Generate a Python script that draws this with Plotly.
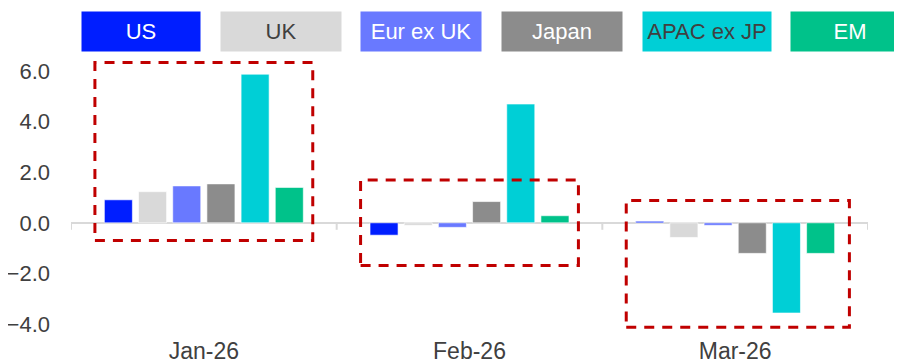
import plotly.graph_objects as go

categories = ["Jan-26", "Feb-26", "Mar-26"]
series_names = ["US", "UK", "Eur ex UK", "Japan", "APAC ex JP", "EM"]
us = [0.91, -0.49, 0.06]
uk = [1.23, -0.10, -0.58]
eur_ex_uk = [1.46, -0.18, -0.10]
japan = [1.54, 0.84, -1.21]
apac_ex_jp = [5.88, 4.70, -3.57]
em = [1.40, 0.28, -1.21]
y_tick_values = [-4.0, -2.0, 0.0, 2.0, 4.0, 6.0]

# highlight boxes around each month (value extents)
box_top = [6.34, 1.69, 0.88]
box_bottom = [-0.70, -1.69, -4.13]

series_values = [us, uk, eur_ex_uk, japan, apac_ex_jp, em]
colors = ["#001EFF", "#D9D9D9", "#6979FF", "#8C8C8C", "#00CFD6", "#00C28A"]
legend_text_colors = ["#FFFFFF", "#404040", "#FFFFFF", "#FFFFFF", "#404040", "#FFFFFF"]

fig = go.Figure()
for name, vals, col in zip(series_names, series_values, colors):
    fig.add_trace(go.Bar(
        x=categories, y=vals, name=name,
        marker=dict(color=col, line=dict(color="rgba(255,255,255,0.6)", width=1)),
        showlegend=False,
    ))

# page body has an 8px margin, so the figure is sized to fit the window
PAGE_OFF = 8
W, H = 902 - PAGE_OFF, 364 - PAGE_OFF
L, R, T, B = 71 - PAGE_OFF, 34, 56 - PAGE_OFF, 30
plot_w = W - L - R
plot_h = H - T - B

fig.update_layout(
    width=W, height=H,
    margin=dict(l=L, r=R, t=T, b=B, autoexpand=False),
    barmode="group", bargap=0.228, bargroupgap=0.18,
    plot_bgcolor="white", paper_bgcolor="white",
    font=dict(family="Liberation Sans, Arial, sans-serif", color="#404040"),
)
fig.update_xaxes(
    type="category", showline=False, showgrid=False, ticks="",
    tickfont=dict(size=23, color="#404040"), ticklabelstandoff=1,
    range=[-0.5, len(categories) - 0.5], automargin=False,
)
fig.update_yaxes(
    range=[-4.4, 6.6], tickvals=y_tick_values, tickformat=".1f",
    showgrid=False, showline=False, ticks="",
    zeroline=True, zerolinecolor="#D9D9D9", zerolinewidth=2,
    tickfont=dict(size=22, color="#404040"), ticklabelstandoff=20,
    automargin=False,
)

# small tick marks under the zero line at category boundaries
for i in range(len(categories) + 1):
    fig.add_shape(type="line", xref="x", yref="y", x0=i - 0.5, x1=i - 0.5,
                  ysizemode="pixel", yanchor=0, y0=0, y1=-7,
                  line=dict(color="#D9D9D9", width=2))

# dashed highlight boxes
x_left = [-0.41, -0.41, -0.41]
x_right = [0.41, 0.41, 0.43]
for i in range(len(categories)):
    fig.add_shape(type="rect", xref="x", yref="y",
                  x0=i + x_left[i], x1=i + x_right[i],
                  y0=box_bottom[i], y1=box_top[i],
                  line=dict(color="#C00000", width=3, dash="10px,8px"),
                  fillcolor="rgba(0,0,0,0)", layer="above")

# legend as coloured boxes with text (centres in window pixels)
centers_px = [141, 281, 421, 562, 706.5, 850]
widths_px = [118, 120, 120, 120, 128, 118]
for name, col, tcol, cx, w in zip(series_names, colors, legend_text_colors, centers_px, widths_px):
    fig.add_annotation(
        xref="paper", yref="paper",
        x=(cx - 71) / plot_w, y=(334 - 31.5) / plot_h,
        xanchor="center", yanchor="middle",
        text=name, showarrow=False,
        width=w, height=39, borderpad=0,
        bgcolor=col,
        font=dict(family="Liberation Sans Narrow, Arial Narrow, Liberation Sans, sans-serif",
                  size=22, color=tcol),
    )

fig.write_html("out.html")
